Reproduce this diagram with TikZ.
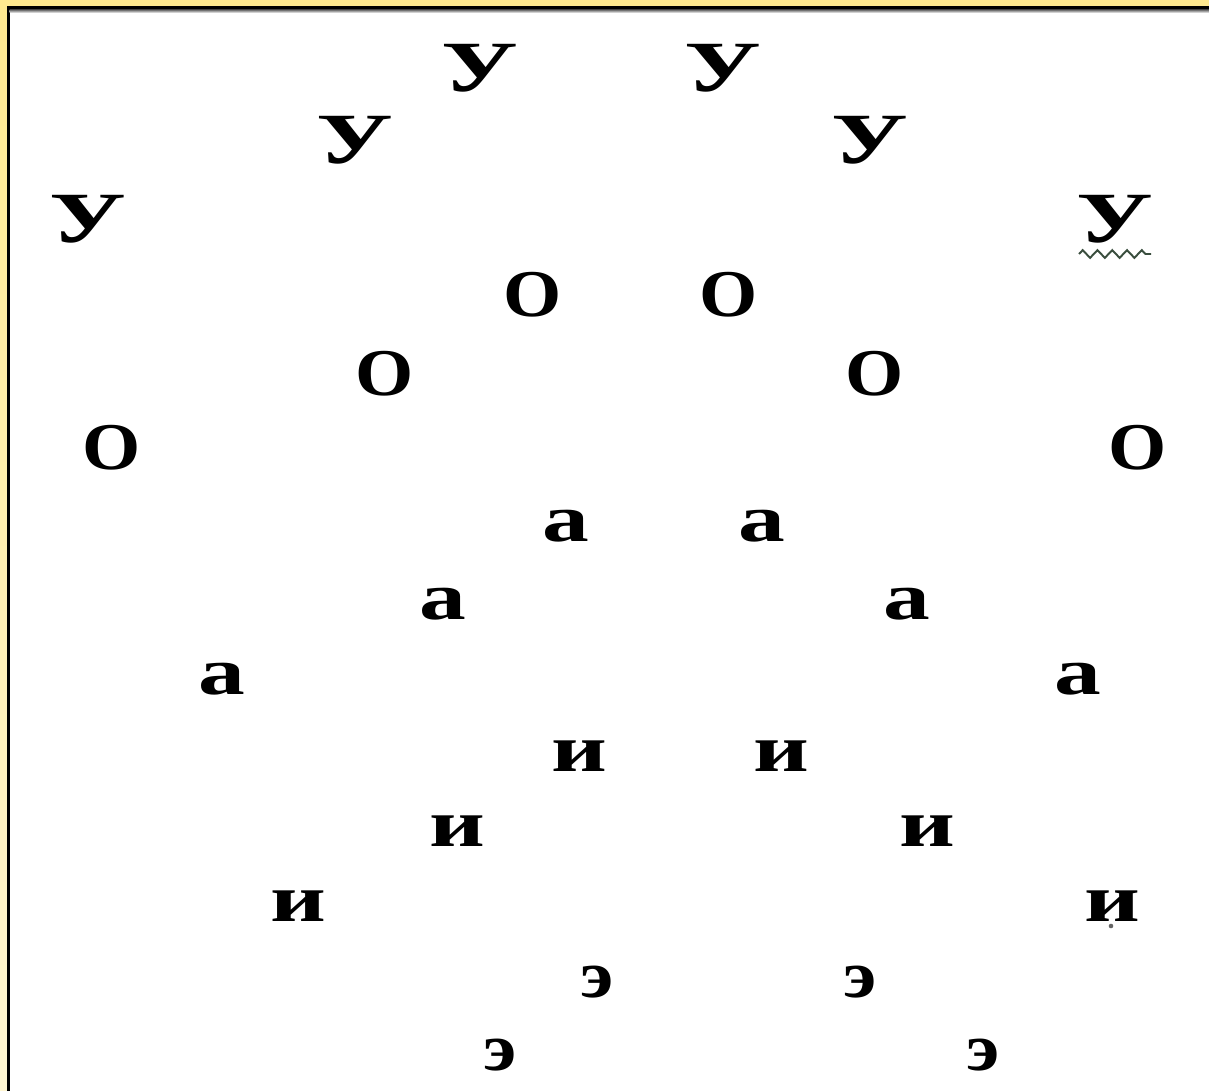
\documentclass[tikz,border=0pt]{standalone}
\usepackage{fontspec}
\setmainfont{Liberation Serif}
\usetikzlibrary{decorations.pathmorphing}
\definecolor{frameGold}{HTML}{FFE98F}
\definecolor{frameGoldLow}{HTML}{FFF6D2}
\definecolor{squigGreen}{HTML}{3A4E3E}
\tikzset{
    % letters of the chart
    vowel/.style={anchor=base, inner sep=0pt, transform shape,
        font=\fontsize{19}{19}\selectfont\bfseries},
    vowelU/.style={vowel, xscale=1.45, font=\fontsize{20.5}{20.5}\selectfont\bfseries},
    vowelO/.style={vowel, xscale=1.12},
    vowelA/.style={vowel, xscale=1.4},
    vowelI/.style={vowel, xscale=1.45},
    vowelE/.style={vowel, xscale=1.15},
    % spell-check mark
    squig/.style={draw=squigGreen, line width=0.55pt,
        decorate, decoration={zigzag, amplitude=1.1pt, segment length=4.2pt}}
}
\begin{document}
\begin{tikzpicture}[x=0.01cm, y=-0.01cm]
\useasboundingbox (0,0) rectangle (1209,1091);
\fill[white] (0,0) rectangle (1209,1091);

% frame
\shade[top color=frameGold, bottom color=frameGoldLow] (0,0) rectangle (7,1091);
\fill[frameGold] (0,0) rectangle (1209,6);
\fill[black] (7,6) rectangle (1209,10);
\fill[black] (7,6) rectangle (9.5,1091);
\shade[top color=black!55, bottom color=white] (9.5,10) rectangle (1209,13);

% y
\node[vowelU] (u1l) at (480,92) {У};
\node[vowelU] (u1r) at (723,92) {У};
\node[vowelU] (u2l) at (355,164) {У};
\node[vowelU] (u2r) at (870,164) {У};
\node[vowelU] (u3l) at (88,242) {У};
\node[vowelU] (u3r) at (1115,242) {У};

% o
\node[vowelO] (o1l) at (533,317) {О};
\node[vowelO] (o1r) at (729,317) {О};
\node[vowelO] (o2l) at (385,395) {О};
\node[vowelO] (o2r) at (875,395) {О};
\node[vowelO] (o3l) at (112,469) {О};
\node[vowelO] (o3r) at (1138,469) {О};

% a
\node[vowelA] (a1l) at (566,541) {а};
\node[vowelA] (a1r) at (762,541) {а};
\node[vowelA] (a2l) at (443,619) {а};
\node[vowelA] (a2r) at (907,619) {а};
\node[vowelA] (a3l) at (222,694) {а};
\node[vowelA] (a3r) at (1078,694) {а};

% i
\node[vowelI] (i1l) at (579,771) {и};
\node[vowelI] (i1r) at (781,771) {и};
\node[vowelI] (i2l) at (457,846) {и};
\node[vowelI] (i2r) at (927,846) {и};
\node[vowelI] (i3l) at (298,921) {и};
\node[vowelI] (i3r) at (1112,921) {и};

% e
\node[vowelE] (e1l) at (597,997) {э};
\node[vowelE] (e1r) at (860,997) {э};
\node[vowelE] (e2l) at (500,1070) {э};
\node[vowelE] (e2r) at (983,1070) {э};

% marks under the last letters
\coordinate (sqA) at (1079,254);
\coordinate (sqB) at (1151,254);
\draw[squig] (sqA) -- (sqB);
\node[circle, fill=black!60, inner sep=0pt, minimum size=1.3pt] (idot) at (1111,926) {};
\end{tikzpicture}
\end{document}
